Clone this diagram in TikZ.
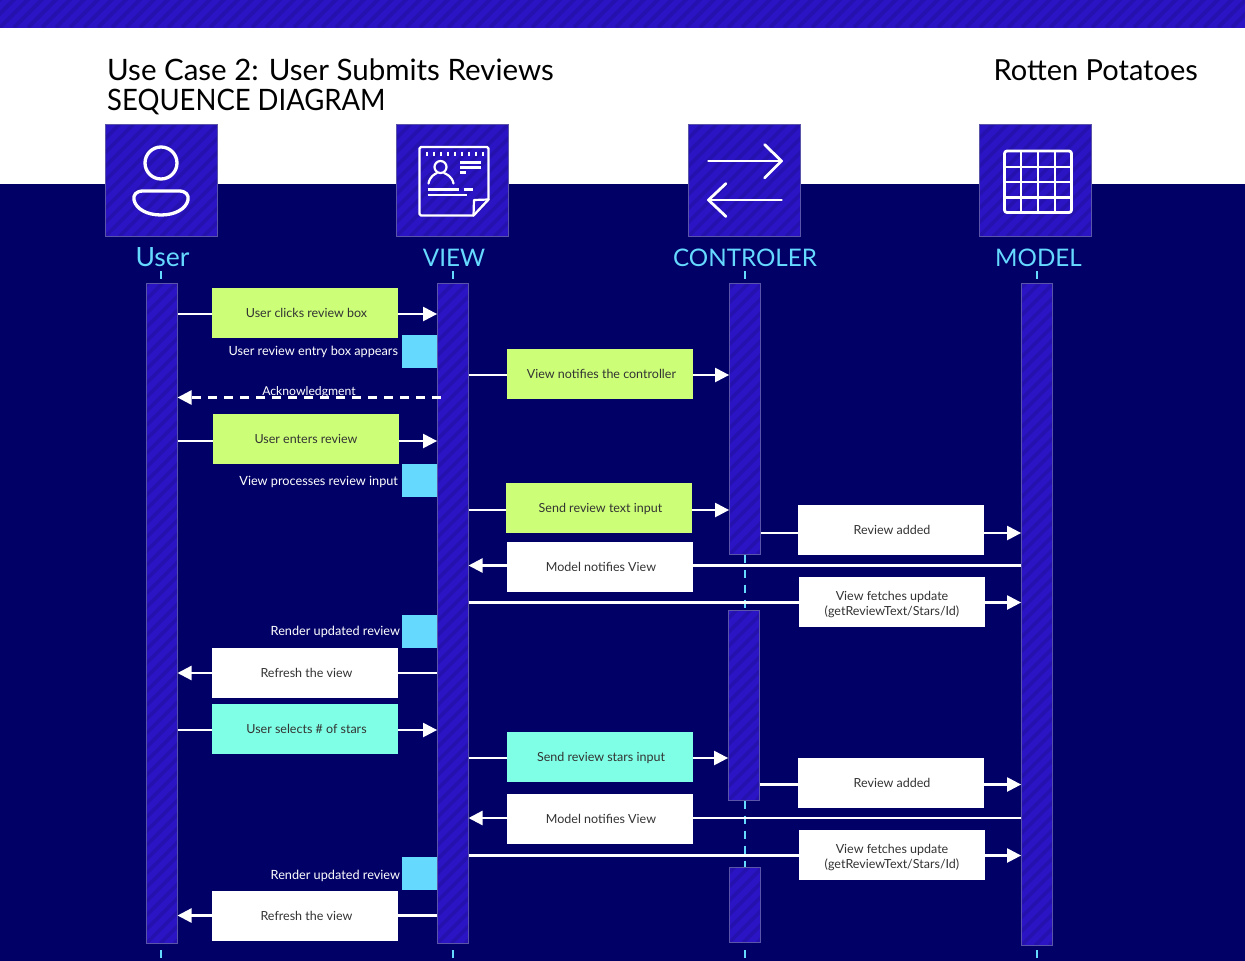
\documentclass[tikz,border=0pt]{standalone}
\usepackage{fontspec}
\setmainfont{Lato}
\usetikzlibrary{arrows.meta}
\definecolor{navy}{HTML}{000066}
\definecolor{band}{HTML}{2A14C4}
\definecolor{bandd}{HTML}{2512AE}
\definecolor{edgec}{HTML}{5A55A8}
\definecolor{sky}{HTML}{66D9FF}
\definecolor{lime}{HTML}{CCFF77}
\definecolor{aqua}{HTML}{7FFFE5}
\definecolor{ink}{HTML}{333333}
\tikzset{
  striped/.style={rectangle,inner sep=0pt,outer sep=0pt,fill=band,
    path picture={\foreach \k in {-700,-686,...,1260}{
      \draw[bandd,line width=3.6pt] ([xshift=\k pt]path picture bounding box.south west) -- ++(720,-720);}}},
  head/.style={striped,draw=edgec,line width=0.6pt,minimum width=112.4,minimum height=112.4},
  bar/.style={striped,draw=edgec,line width=0.7pt,minimum width=31.4},
  msgbox/.style={rectangle,inner sep=0pt,outer sep=0pt,minimum width=186,minimum height=50,align=center,text=ink,font=\fontsize{12.5}{15}\selectfont},
  oneline/.style={text height=9pt,text depth=0pt},
  green/.style={msgbox,oneline,fill=lime},
  whitebox/.style={msgbox,oneline,fill=white},
  whitetwo/.style={msgbox,fill=white},
  aquabox/.style={msgbox,oneline,fill=aqua},
  tab/.style={rectangle,inner sep=0pt,outer sep=0pt,fill=sky,minimum width=35,minimum height=33},
  side/.style={inner sep=0pt,outer sep=0pt,anchor=east,text=white,oneline,font=\fontsize{12.7}{15}\selectfont},
  role/.style={inner sep=0pt,text=sky,font=\fontsize{24.2}{28}\selectfont},
  title/.style={inner sep=0pt,text=black,font=\fontsize{29.5}{30}\selectfont,anchor=base west},
  plainline/.style={draw=white,line width=2.3pt},
  arrowline/.style={draw=white,line width=2.3pt,-{Triangle[length=14pt,width=14pt]}},
  dashline/.style={draw=white,line width=2.5pt,dash pattern=on 9pt off 7pt,-{Triangle[length=14pt,width=14pt]}},
  life/.style={draw=sky,line width=2pt},
  lifedash/.style={draw=sky,line width=2pt,dash pattern=on 8pt off 7pt},
  icon/.style={draw=white,line width=2.8pt,line cap=round,line join=round}
}
\begin{document}
\begin{tikzpicture}[x=1pt,y=-1pt]
\useasboundingbox (0,0) rectangle (1245,961);
\fill[white] (0,0) rectangle (1245,184);
\fill[navy] (0,184) rectangle (1245,961);
\node[striped,minimum width=1245,minimum height=27.5] (topband) at (622.5,13.75) {};
% titles
\node[title] (t1) at (107,80) {Use Case 2: User Submits Reviews};
\node[title] (t2) at (107,110) {\scalebox{0.93}[1]{SEQUENCE DIAGRAM}};
\node[title,anchor=base east,font=\fontsize{29}{30}\selectfont] (t3) at (1198,80) {Rotten Potatoes};
% header squares
\node[head] (hU) at (161.3,180.3) {};
\node[head] (hV) at (452.3,180.3) {};
\node[head] (hC) at (744.3,180.3) {};
\node[head] (hM) at (1035.3,180.3) {};
% user icon
\draw[icon,line width=3.3pt] (161,163) circle (16);
\draw[icon,line width=3.3pt] (143,191) -- (179,191) .. controls (186,191) and (189,195) .. (188,200) .. controls (186,209) and (175,215) .. (161,215) .. controls (147,215) and (136,209) .. (134,200) .. controls (133,195) and (136,191) .. (143,191) -- cycle;
% view icon
\draw[icon,line width=2.4pt] (421,147) -- (487,147) .. controls (488,147) .. (488.5,148.5) -- (488.5,199.5) -- (473.5,215.5) -- (421,215.5) .. controls (420,215.5) .. (419.5,214) -- (419.5,148.5) .. controls (419.5,147.5) .. (421,147) -- cycle;
\draw[icon,line width=2.2pt] (488.5,199.5) -- (474,200) -- (473.5,215.5);
\foreach \x in {426.5,433.5,...,483}{\draw[white,line width=2pt] (\x,151.5) -- (\x,156);}
\draw[icon,line width=2.2pt] (440.5,167) circle (6);
\draw[icon,line width=2.2pt] (428.5,183.5) .. controls (430,176) and (435,174) .. (437,173);
\draw[icon,line width=2.2pt] (453.5,183.5) .. controls (452,176) and (446,174) .. (444,173);
\foreach \a/\b/\c in {460/481/162.5,460/481/167.5,460/466/172.5,427.5/459/189.5,463.5/472.5/189.5,427.5/467/195}{\draw[white,line width=2.2pt] (\a,\c) -- (\b,\c);}
% controller icon
\draw[icon] (708.5,161) -- (781.5,161);
\draw[icon] (764.5,144.5) -- (781.5,161) -- (764.5,178);
\draw[icon] (781.5,200) -- (708.5,200);
\draw[icon] (726,183.5) -- (708.5,200) -- (726,216.5);
% model icon
\draw[icon,rounded corners=2.5pt] (1004.5,151) rectangle (1071.5,212.5);
\foreach \x in {1020.7,1037.7,1055}{\draw[white,line width=2.4pt] (\x,151) -- (\x,212.5);}
\foreach \y in {166.7,181.7,197.3}{\draw[white,line width=2.4pt] (1004.5,\y) -- (1071.5,\y);}
% role labels
\node[role,font=\fontsize{26.5}{28}\selectfont] (lU) at (162.5,257.5) {User};
\node[role] (lV) at (454,257.5) {VIEW};
\node[role] (lC) at (745,257.5) {CONTROLER};
\node[role] (lM) at (1038.5,257.5) {MODEL};
% lifeline bars
\node[bar,minimum height=660.4] (uBar) at (161.8,613.3) {};
\node[bar,minimum height=660.4] (vBar) at (452.8,613.3) {};
\node[bar,minimum height=271.4] (cBarA) at (744.8,418.8) {};
\node[bar,minimum height=190.4] (cBarB) at (743.8,705.3) {};
\node[bar,minimum height=75.4] (cBarC) at (744.8,904.8) {};
\node[bar,minimum height=662.4] (mBar) at (1036.8,614.3) {};
% lifeline ticks and dashes
\coordinate (uT) at (161,271); \coordinate (uB) at (161,950);
\coordinate (vT) at (453,271); \coordinate (vB) at (453,950);
\coordinate (cT) at (745,271); \coordinate (cB) at (745,950);
\coordinate (mT) at (1037,271); \coordinate (mB) at (1037,950);
\draw[life] (uT) -- ++(0,8); \draw[life] (uB) -- ++(0,8);
\draw[life] (vT) -- ++(0,8); \draw[life] (vB) -- ++(0,8);
\draw[life] (cT) -- ++(0,8); \draw[life] (cB) -- ++(0,8);
\draw[life] (mT) -- ++(0,8); \draw[life] (mB) -- ++(0,8);
\draw[lifedash] (cT |- cBarA.south) -- (cT |- cBarB.north);
\draw[lifedash] (cT |- cBarB.south) -- (cT |- cBarC.north);
% message boxes
\node[green] (m1) at (305,312.5) {\hspace*{3pt}User clicks review box};
\node[green] (m2) at (600,374) {\hspace*{3pt}View notifies the controller};
\node[green] (m3) at (306,439) {User enters review};
\node[green] (m4) at (599,508) {\hspace*{3pt}Send review text input};
\node[whitebox] (m5) at (891,530) {\hspace*{2pt}Review added};
\node[whitebox] (m6) at (600,567) {\hspace*{2pt}Model notifies View};
\node[whitetwo] (m7) at (892,602) {\rule{0pt}{14pt}View fetches update\\(getReviewText/Stars/Id)};
\node[whitebox] (m8) at (305,673) {\hspace*{3pt}Refresh the view};
\node[aquabox] (m9) at (305,729) {\hspace*{3pt}User selects \# of stars};
\node[aquabox] (m10) at (600,757) {\hspace*{2pt}Send review stars input};
\node[whitebox] (m11) at (891,783) {\hspace*{2pt}Review added};
\node[whitebox] (m12) at (600,819) {\hspace*{2pt}Model notifies View};
\node[whitetwo] (m13) at (892,855) {\rule{0pt}{14pt}View fetches update\\(getReviewText/Stars/Id)};
\node[whitebox] (m14) at (305,916) {\hspace*{3pt}Refresh the view};
% response tabs with side labels
\node[tab] (b1) at (419.5,351.5) {};
\node[tab] (b2) at (419.5,480.5) {};
\node[tab] (b3) at (419.5,631.5) {};
\node[tab] (b4) at (419.5,873.5) {};
\node[side] (s1) at (398,351) {User review entry box appears};
\node[side] (s2) at (398,481) {View processes review input};
\node[side] (s3) at (400,631) {Render updated review};
\node[side] (s4) at (400,875) {Render updated review};
% connector levels
\coordinate (y1) at (0,314);
\coordinate (y2) at (0,375);
\coordinate (y3) at (0,441);
\coordinate (y4) at (0,510);
\coordinate (y5) at (0,533);
\coordinate (y6) at (0,565.5);
\coordinate (y7) at (0,602.5);
\coordinate (y8) at (0,673);
\coordinate (y9) at (0,730);
\coordinate (y10) at (0,758);
\coordinate (y11) at (0,784.5);
\coordinate (y12) at (0,818);
\coordinate (y13) at (0,855.5);
\coordinate (y14) at (0,915.5);
\coordinate (ya) at (0,397.5);
\coordinate (ackstart) at (441,397.5);
% connectors
\draw[plainline] (y1 -| uBar.east) -- (y1 -| m1.west);
\draw[arrowline] (y1 -| m1.east) -- (y1 -| vBar.west);
\draw[plainline] (y2 -| vBar.east) -- (y2 -| m2.west);
\draw[arrowline] (y2 -| m2.east) -- (y2 -| cBarA.west);
\draw[dashline] (ackstart) -- (ya -| uBar.east);
\node[inner sep=0pt,text=white,oneline,font=\fontsize{12.2}{15}\selectfont] (ack) at (309,390.5) {Acknowledgment};
\draw[plainline] (y3 -| uBar.east) -- (y3 -| m3.west);
\draw[arrowline] (y3 -| m3.east) -- (y3 -| vBar.west);
\draw[plainline] (y4 -| vBar.east) -- (y4 -| m4.west);
\draw[arrowline] (y4 -| m4.east) -- (y4 -| cBarA.west);
\draw[plainline] (y5 -| cBarA.east) -- (y5 -| m5.west);
\draw[arrowline] (y5 -| m5.east) -- (y5 -| mBar.west);
\draw[plainline] (y6 -| mBar.west) -- (y6 -| m6.east);
\draw[arrowline] (y6 -| m6.west) -- (y6 -| vBar.east);
\draw[plainline] (y7 -| vBar.east) -- (y7 -| m7.west);
\draw[arrowline] (y7 -| m7.east) -- (y7 -| mBar.west);
\draw[plainline] (y8 -| vBar.west) -- (y8 -| m8.east);
\draw[arrowline] (y8 -| m8.west) -- (y8 -| uBar.east);
\draw[plainline] (y9 -| uBar.east) -- (y9 -| m9.west);
\draw[arrowline] (y9 -| m9.east) -- (y9 -| vBar.west);
\draw[plainline] (y10 -| vBar.east) -- (y10 -| m10.west);
\draw[arrowline] (y10 -| m10.east) -- (y10 -| cBarB.west);
\draw[plainline] (y11 -| cBarB.east) -- (y11 -| m11.west);
\draw[arrowline] (y11 -| m11.east) -- (y11 -| mBar.west);
\draw[plainline] (y12 -| mBar.west) -- (y12 -| m12.east);
\draw[arrowline] (y12 -| m12.west) -- (y12 -| vBar.east);
\draw[plainline] (y13 -| vBar.east) -- (y13 -| m13.west);
\draw[arrowline] (y13 -| m13.east) -- (y13 -| mBar.west);
\draw[plainline] (y14 -| vBar.west) -- (y14 -| m14.east);
\draw[arrowline] (y14 -| m14.west) -- (y14 -| uBar.east);
\end{tikzpicture}
\end{document}
